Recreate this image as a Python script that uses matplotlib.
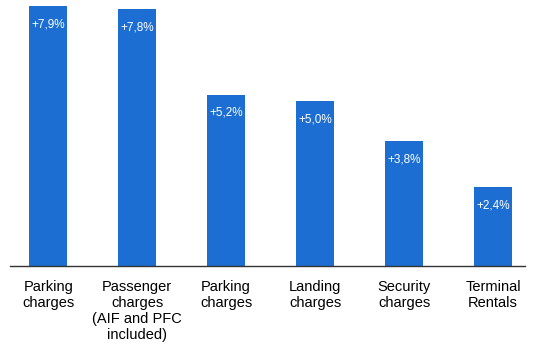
import matplotlib.pyplot as plt

# categories and increase values (%)
categories = ['Parking\ncharges', 'Passenger\ncharges\n(AIF and PFC\nincluded)', 'Parking\ncharges',
              'Landing\ncharges', 'Security\ncharges', 'Terminal\nRentals']
values = [7.9, 7.8, 5.2, 5.0, 3.8, 2.4]
labels = ['+7,9%', '+7,8%', '+5,2%', '+5,0%', '+3,8%', '+2,4%']

plt.rcParams['font.family'] = ['Liberation Sans', 'DejaVu Sans']

fig = plt.figure(figsize=(5.45, 3.55), dpi=100)
ax = fig.add_axes([10/545, 89/355, 515/545, 266/355])

x = list(range(len(values)))
bars = ax.bar(x, values, width=0.43, color='#1c6ed3', zorder=2)

for b, lab in zip(bars, labels):
    ax.text(b.get_x() + b.get_width()/2, b.get_height() - 0.55, lab,
            ha='center', va='center', color='white', fontsize=8.5)

ax.set_xlim(-0.43, 5.36)
ax.set_ylim(0, 8.08)

ax.set_xticks(x)
ax.set_xticklabels(categories, fontsize=10.5, linespacing=1.2)
ax.tick_params(axis='x', length=0, pad=10)
ax.set_yticks([])
for s in ['top', 'right', 'left']:
    ax.spines[s].set_visible(False)
ax.spines['bottom'].set_color('#333333')
ax.spines['bottom'].set_linewidth(1.0)

fig.savefig('out.png', dpi=100)
